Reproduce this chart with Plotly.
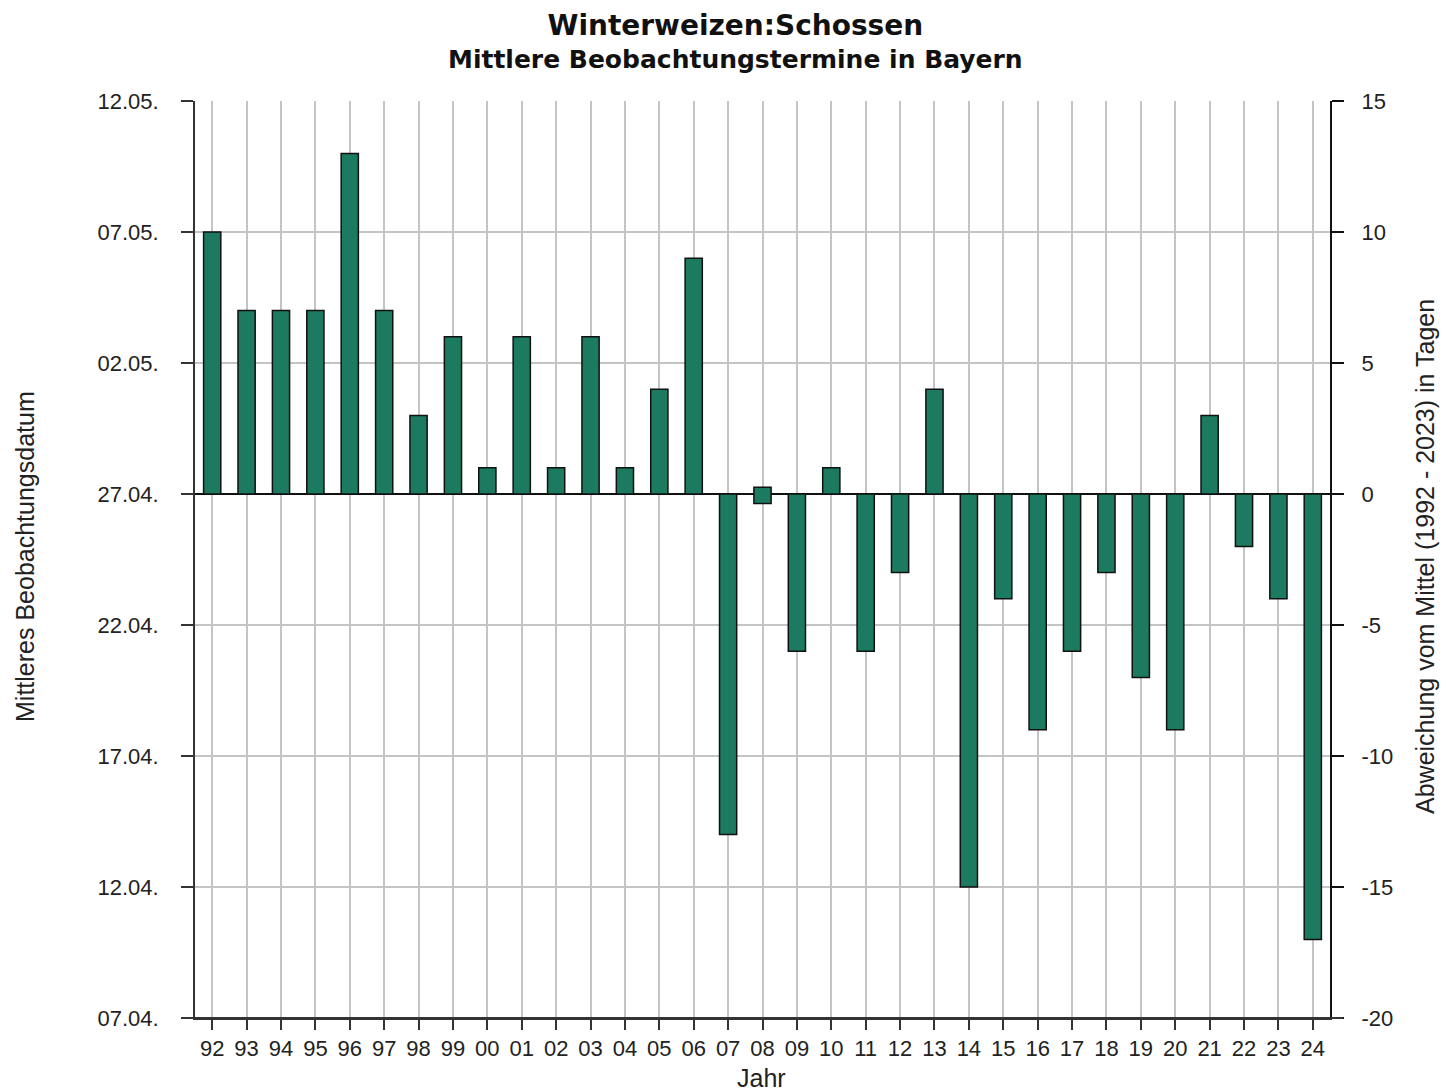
import plotly.graph_objects as go

years = ["92","93","94","95","96","97","98","99","00","01","02","03","04","05","06",
         "07","08","09","10","11","12","13","14","15","16","17","18","19","20","21",
         "22","23","24"]
deviation = [10, 7, 7, 7, 13, 7, 3, 6, 1, 6, 1, 6, 1, 4, 9,
             -13, 0, -6, 1, -6, -3, 4, -15, -4, -9, -6, -3, -7, -9, 3,
             -2, -4, -17]

right_ticks = [-20, -15, -10, -5, 0, 5, 10, 15]
date_labels = ["07.04.", "12.04.", "17.04.", "22.04.", "27.04.", "02.05.", "07.05.", "12.05."]

title_text = "Winterweizen:Schossen"
subtitle_text = "Mittlere Beobachtungstermine in Bayern"
left_title = "Mittleres Beobachtungsdatum"
right_title = "Abweichung vom Mittel (1992 - 2023) in Tagen"
x_title = "Jahr"

BAR = "#1b7a60"
GRID = "#c4c4c4"
FONT = "Liberation Sans, Arial, sans-serif"
TFONT = "DejaVu Sans, Verdana, sans-serif"

OFF = 8  # default page body margin
W, H = 1450 - OFF, 1092 - OFF
L, T = 195 - OFF, 101 - OFF
R = W - (1330 - OFF)
B = H - (1018 - OFF)
PW, PH = W - L - R, H - T - B


def px(x):
    return (x - OFF - L) / PW


def py(y):
    return (H - B - (y - OFF)) / PH


# zero-deviation years are drawn as a small box straddling the zero line
ys = [v if v != 0 else 0.62 for v in deviation]
bases = [0 if v != 0 else -0.36 for v in deviation]

fig = go.Figure()
fig.add_trace(go.Bar(
    x=years, y=ys, base=bases, width=0.5,
    marker=dict(color=BAR, line=dict(color="#111111", width=1.5)),
    yaxis="y2", showlegend=False, hoverinfo="skip",
))
fig.add_trace(go.Scatter(x=[years[0]], y=[0], mode="markers",
                         marker=dict(opacity=0), yaxis="y", showlegend=False,
                         hoverinfo="skip"))

tickfont = dict(family=FONT, size=22, color="#222222")

title_html = ("<span style='font-size:28px'><b>%s</b></span><br><b>%s</b>"
              % (title_text, subtitle_text))

fig.update_layout(
    width=W, height=H,
    margin=dict(l=L, r=R, t=T, b=B, autoexpand=False),
    plot_bgcolor="white", paper_bgcolor="white",
    font=dict(family=FONT, size=17, color="#222222"),
    xaxis=dict(
        type="category", range=[-0.5, 32.5], automargin=False,
        showgrid=True, gridcolor=GRID, gridwidth=1.5,
        showline=True, linecolor="#333333", linewidth=2,
        ticks="outside", ticklen=10, tickwidth=2, tickcolor="#333333",
        tickfont=tickfont, zeroline=False,
    ),
    yaxis=dict(
        range=[-20, 15], side="left", automargin=False,
        tickvals=right_ticks, ticktext=date_labels,
        showgrid=True, gridcolor=GRID, gridwidth=1.5,
        showline=True, linecolor="#333333", linewidth=2,
        ticks="outside", ticklen=12, tickwidth=2, tickcolor="#333333",
        tickfont=tickfont, ticklabelstandoff=18,
        zeroline=False,
    ),
    yaxis2=dict(
        range=[-20, 15], side="right", overlaying="y", automargin=False,
        tickvals=right_ticks, ticktext=[str(t) for t in right_ticks],
        showgrid=False,
        showline=True, linecolor="#111111", linewidth=2,
        ticks="outside", ticklen=12, tickwidth=2, tickcolor="#111111",
        tickfont=tickfont, ticklabelstandoff=13,
        zeroline=True, zerolinecolor="#111111", zerolinewidth=2,
    ),
    shapes=[dict(type="line", xref="paper", yref="paper",
                 x0=px(183), x1=px(1343), y0=0, y1=0,
                 line=dict(color="#333333", width=2))],
    annotations=[
        dict(text=title_html, xref="paper", yref="paper",
             x=px(735), y=py(OFF), xanchor="center", yanchor="top",
             showarrow=False, borderpad=0,
             font=dict(family=TFONT, size=25, color="#111111")),
        dict(text=left_title, xref="paper", yref="paper",
             x=px(25), y=py(557), xanchor="center", yanchor="middle", textangle=-90,
             showarrow=False, font=dict(family=FONT, size=25, color="#222222")),
        dict(text=right_title, xref="paper", yref="paper",
             x=px(1425), y=py(557), xanchor="center", yanchor="middle", textangle=-90,
             showarrow=False, font=dict(family=FONT, size=25, color="#222222")),
        dict(text=x_title, xref="paper", yref="paper",
             x=px(761), y=py(1078), xanchor="center", yanchor="middle",
             showarrow=False, borderpad=0,
             font=dict(family=FONT, size=25, color="#222222")),
    ],
)

fig.write_html("out.html")
